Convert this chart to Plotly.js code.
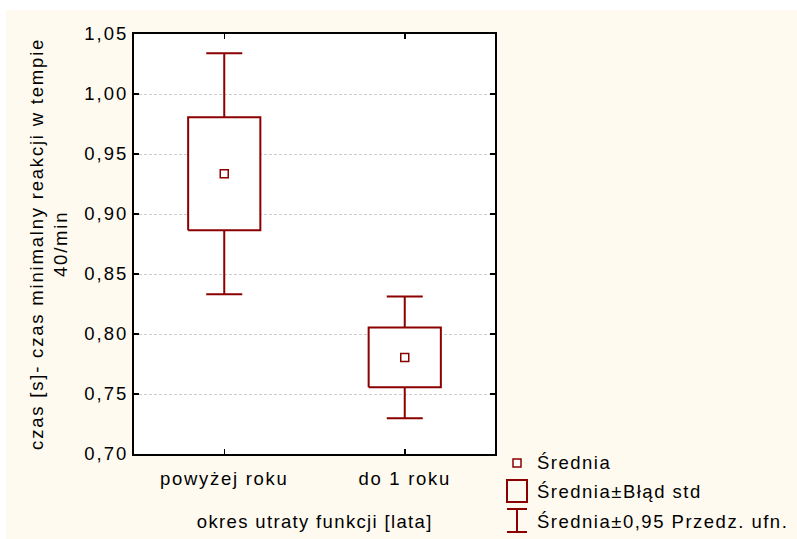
<!DOCTYPE html>
<html>
<head>
<meta charset="utf-8">
<script src="https://cdn.plot.ly/plotly-3.0.1.min.js"></script>
<style>
html, body { margin: 0; padding: 0; background: #ffffff; }
#chart { width: 797px; height: 539px; }
</style>
</head>
<body>
<div id="chart"></div>
<script>
// ---- data ----
const categories = ['powyżej roku', 'do 1 roku'];
const means = [0.9335, 0.7805];
const stdErr = [0.0471, 0.0249];
const ci95 = [0.1004, 0.0508];
const legendLabels = ['Średnia', 'Średnia±Błąd std', 'Średnia±0,95 Przedz. ufn.'];
const xTitle = 'okres utraty funkcji [lata]';
const yTitle = 'czas [s]- czas minimalny reakcji w tempie<br>40/min';

// ---- styling / geometry ----
const W = 797, H = 539;
const L = 134, R = 495, T = 34, B = 454;
const PW = R - L, PH = B - T;
const RED = '#8B0000';
const FONT = 'Liberation Sans, Arial, sans-serif';
const FS = 18.5;
const BOX_HALF = 0.2;
const px = v => (v - L) / PW;          // pixel x -> paper x
const py = v => (B - v) / PH;          // pixel y -> paper y

const xIdx = categories.map((c, i) => i);

// whiskers (confidence interval) drawn as error bars, under the boxes
const whiskers = {
  type: 'scatter', mode: 'markers', x: xIdx, y: means,
  marker: { size: 1, opacity: 0 },
  error_y: { type: 'data', array: ci95, visible: true, color: RED, thickness: 2, width: 18 },
  showlegend: false, hoverinfo: 'skip', cliponaxis: false
};

// boxes (mean ± std error), white filled to hide the whisker inside
const bx = [], by = [];
xIdx.forEach((x, i) => {
  const lo = means[i] - stdErr[i], hi = means[i] + stdErr[i];
  bx.push(x - BOX_HALF, x + BOX_HALF, x + BOX_HALF, x - BOX_HALF, x - BOX_HALF, null);
  by.push(lo, lo, hi, hi, lo, null);
});
const boxes = {
  type: 'scatter', mode: 'lines', x: bx, y: by, fill: 'toself', fillcolor: '#ffffff',
  line: { color: RED, width: 2 }, showlegend: false, hoverinfo: 'skip'
};

// means
const meanPts = {
  type: 'scatter', mode: 'markers', x: xIdx, y: means,
  marker: { symbol: 'square-open', size: 8, color: RED, line: { width: 1.5, color: RED } },
  showlegend: false
};

// custom legend
const legRows = [463, 492, 521];
const annotations = [
  { xref: 'paper', yref: 'paper', x: 0.5, y: py(521), xanchor: 'center', yanchor: 'middle',
    text: xTitle, showarrow: false, font: { family: FONT, size: FS, color: '#000' } },
  { xref: 'paper', yref: 'paper', x: px(48), y: 0.5, xanchor: 'center', yanchor: 'middle',
    text: yTitle, textangle: -90, showarrow: false, font: { family: FONT, size: FS, color: '#000' } }
];
legendLabels.forEach((t, i) => {
  annotations.push({ xref: 'paper', yref: 'paper', x: px(535), y: py(legRows[i]),
    xanchor: 'left', yanchor: 'middle', align: 'left', text: t, showarrow: false,
    font: { family: FONT, size: FS, color: '#000' } });
});
// letter spacing per annotation (the reference text is widely spaced)
const annSpacing = [1.35, 1.8, 1.5, 1.5, 1.5];

const shapes = [
  // white margin strips at top and left of the page
  { type: 'rect', xref: 'paper', yref: 'paper', x0: px(0), x1: px(W), y0: py(0), y1: py(10),
    fillcolor: '#ffffff', line: { width: 0 }, layer: 'below' },
  { type: 'rect', xref: 'paper', yref: 'paper', x0: px(0), x1: px(6), y0: py(0), y1: py(H),
    fillcolor: '#ffffff', line: { width: 0 }, layer: 'below' },
  // legend symbols
  { type: 'rect', xref: 'paper', yref: 'paper', x0: px(513), x1: px(521), y0: py(459), y1: py(467),
    fillcolor: '#ffffff', line: { color: RED, width: 1.5 } },
  { type: 'rect', xref: 'paper', yref: 'paper', x0: px(507), x1: px(527), y0: py(480), y1: py(502),
    fillcolor: 'rgba(0,0,0,0)', line: { color: RED, width: 2 } },
  { type: 'line', xref: 'paper', yref: 'paper', x0: px(517), x1: px(517), y0: py(509), y1: py(532),
    line: { color: RED, width: 2 } },
  { type: 'line', xref: 'paper', yref: 'paper', x0: px(507), x1: px(527), y0: py(509), y1: py(509),
    line: { color: RED, width: 2 } },
  { type: 'line', xref: 'paper', yref: 'paper', x0: px(507), x1: px(527), y0: py(532), y1: py(532),
    line: { color: RED, width: 2 } }
];

const layout = {
  width: W, height: H,
  margin: { l: L, r: W - R, t: T, b: H - B, pad: 0 },
  paper_bgcolor: '#FFFAF0', plot_bgcolor: '#ffffff',
  separators: ', ',
  showlegend: false,
  font: { family: FONT, size: FS, color: '#000' },
  xaxis: {
    range: [-0.5, 1.5], tickvals: xIdx, ticktext: categories,
    showline: true, linecolor: '#000', linewidth: 2, mirror: 'ticks',
    ticks: 'inside', ticklen: 5, tickwidth: 1.5, tickcolor: '#000',
    ticklabelstandoff: 7,
    showgrid: false, zeroline: false, fixedrange: true,
    tickfont: { family: FONT, size: FS, color: '#000' }
  },
  yaxis: {
    range: [0.70, 1.05], tick0: 0.70, dtick: 0.05, tickformat: '.2f',
    showline: true, linecolor: '#000', linewidth: 2, mirror: 'ticks',
    ticks: 'inside', ticklen: 5, tickwidth: 1.5, tickcolor: '#000',
    ticklabelstandoff: 0,
    showgrid: true, gridcolor: '#CCCCCC', gridwidth: 1, griddash: '3px,2px',
    zeroline: false, fixedrange: true,
    tickfont: { family: FONT, size: FS, color: '#000' }
  },
  annotations: annotations,
  shapes: shapes
};

Plotly.newPlot('chart', [whiskers, boxes, meanPts], layout, { staticPlot: true, displayModeBar: false })
  .then(gd => {
    gd.querySelectorAll('g.xtick text').forEach(t => t.style.letterSpacing = '1.7px');
    gd.querySelectorAll('g.ytick text').forEach(t => t.style.letterSpacing = '2px');
    gd.querySelectorAll('g.annotation').forEach(g => {
      const i = +g.getAttribute('data-index');
      const t = g.querySelector('text');
      if (t && annSpacing[i] !== undefined) t.style.letterSpacing = annSpacing[i] + 'px';
    });
  });
</script>
</body>
</html>
